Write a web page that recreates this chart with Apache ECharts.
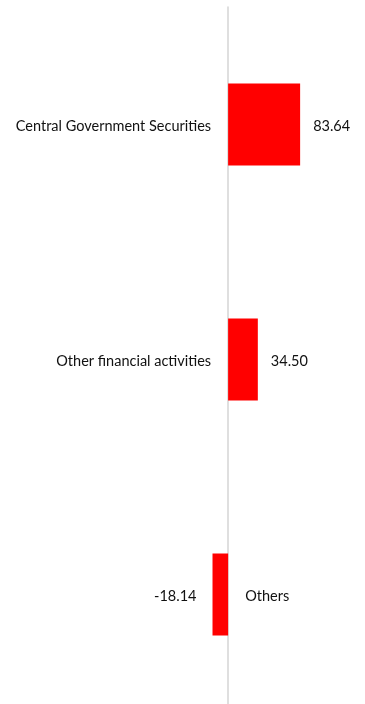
<!DOCTYPE html>
<html>
<head>
<meta charset="utf-8">
<style>
  html, body { margin: 0; padding: 0; background: #ffffff; overflow: hidden; }
  #chart { width: 365px; height: 712px; }
</style>
<script src="https://cdn.jsdelivr.net/npm/echarts@6/dist/echarts.min.js"></script>
</head>
<body>
<div id="chart"></div>
<script>
// Sector-wise change, top to bottom
const categories = ['Central Government Securities', 'Other financial activities', 'Others'];
const values = [83.64, 34.50, -18.14];

const FONT = 'Lato';
const TEXT = '#111111';
const FONT_SIZE = 14.5;

const chart = echarts.init(document.getElementById('chart'), null, { renderer: 'canvas' });

chart.setOption({
  animation: false,
  grid: { left: 0, right: 0, top: 7, bottom: 0, containLabel: false },
  xAxis: {
    type: 'value',
    min: -265,
    max: 159,
    show: false
  },
  yAxis: {
    type: 'category',
    data: categories,
    inverse: true,
    axisLine: { show: true, onZero: true, lineStyle: { color: '#d4d4d4', width: 1.5 } },
    axisTick: { show: false },
    axisLabel: { show: false },
    splitLine: { show: false }
  },
  series: [
    {
      // the bars with their value labels
      type: 'bar',
      barWidth: 82,
      barGap: '-100%',
      itemStyle: { color: '#ff0000' },
      data: values.map(v => ({
        value: v,
        label: {
          show: true,
          position: v >= 0 ? 'right' : 'left',
          distance: v >= 0 ? 13 : 16,
          offset: [0, 1.5],
          formatter: p => p.value.toFixed(2),
          fontFamily: FONT,
          fontSize: FONT_SIZE,
          color: TEXT
        }
      }))
    },
    {
      // zero-length anchors carrying the category names beside the axis
      type: 'bar',
      barWidth: 82,
      barGap: '-100%',
      silent: true,
      itemStyle: { color: 'transparent' },
      data: values.map((v, i) => ({
        value: 0,
        label: {
          show: true,
          position: v >= 0 ? 'left' : 'right',
          distance: 17,
          offset: [0, 1.5],
          formatter: categories[i],
          fontFamily: FONT,
          fontSize: FONT_SIZE,
          color: TEXT
        }
      }))
    }
  ]
});
</script>
</body>
</html>
